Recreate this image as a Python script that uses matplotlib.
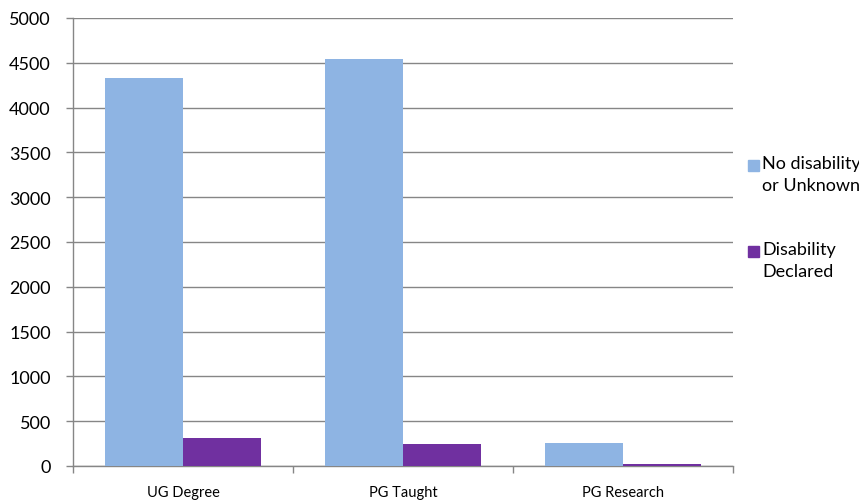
import matplotlib
matplotlib.use("Agg")
import matplotlib.pyplot as plt
from matplotlib.patches import Rectangle
import numpy as np

categories = ["UG Degree", "PG Taught", "PG Research"]
no_disability = [4335, 4545, 258]
disability = [310, 250, 18]
series_labels = ["No disability\nor Unknown", "Disability\nDeclared"]
y_ticks = list(range(0, 5001, 500))

BLUE = "#8EB4E3"
PURPLE = "#7030A0"
GRID = "#868686"

plt.rcParams["font.family"] = ["Lato", "DejaVu Sans"]

fig = plt.figure(figsize=(8.59, 5.02), dpi=100)
ax = fig.add_axes([73 / 859, 35 / 502, 660 / 859, 448 / 502])

x = np.arange(len(categories))
w = 78 / 220
ax.bar(x - w / 2, no_disability, w, color=BLUE, zorder=3)
ax.bar(x + w / 2, disability, w, color=PURPLE, zorder=3)

ax.set_xlim(-0.5, len(categories) - 0.5)
ax.set_ylim(0, 5000)
ax.set_yticks(y_ticks)
ax.set_yticklabels([str(v) for v in y_ticks], fontsize=13)
ax.yaxis.grid(True, color=GRID, lw=1, zorder=0)

# category labels centred, tick marks on the category boundaries
ax.set_xticks(x)
ax.set_xticklabels(categories, fontsize=10.5)
ax.tick_params(axis="x", length=0, pad=14)
ax.set_xticks(np.arange(-0.5, len(categories)), minor=True)
ax.tick_params(axis="x", which="minor", length=5, color=GRID, width=1)
ax.tick_params(axis="y", length=5, color=GRID, width=1, pad=11)

for side in ("top", "right"):
    ax.spines[side].set_visible(False)
for side in ("left", "bottom"):
    ax.spines[side].set_color(GRID)
    ax.spines[side].set_linewidth(1)

# legend: swatch aligned with the first line of each wrapped label
for (label, color, top) in zip(series_labels, [BLUE, PURPLE], [160, 246]):
    fig.patches.append(Rectangle((748 / 859, 1 - (top + 12) / 502), 11 / 859, 11 / 502,
                                 transform=fig.transFigure, color=color))
    fig.text(762 / 859, 1 - (top - 4) / 502, label, fontsize=13, va="top", ha="left",
             linespacing=1.45)

fig.savefig("out.png", dpi=100)
